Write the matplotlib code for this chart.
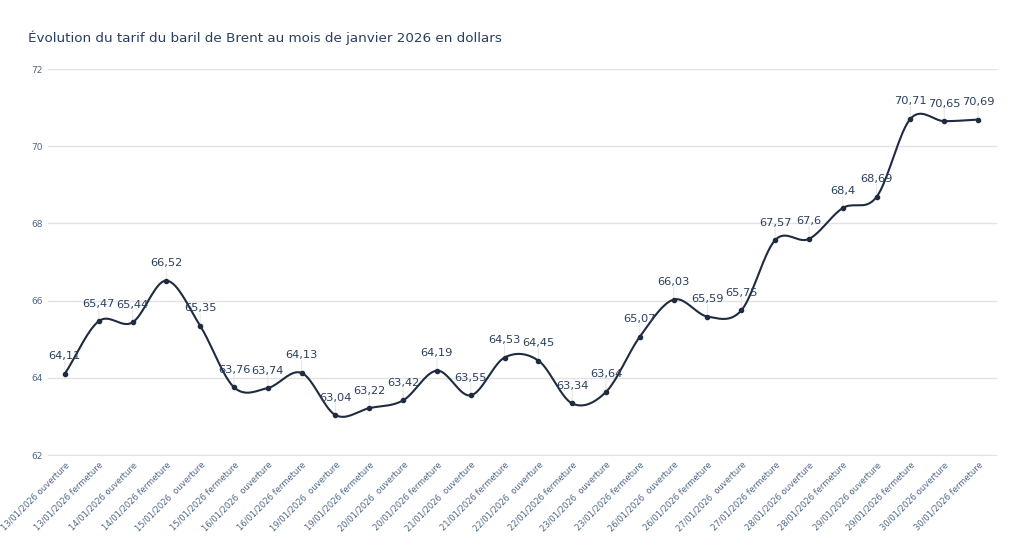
import numpy as np
import matplotlib.pyplot as plt
from matplotlib.transforms import ScaledTranslation

title = "Évolution du tarif du baril de Brent au mois de janvier 2026 en dollars"

labels = [
    "13/01/2026 ouverture", "13/01/2026 fermeture",
    "14/01/2026 ouverture", "14/01/2026 fermeture",
    "15/01/2026  ouverture", "15/01/2026 fermeture",
    "16/01/2026  ouverture", "16/01/2026 fermeture",
    "19/01/2026  ouverture", "19/01/2026 fermeture",
    "20/01/2026  ouverture", "20/01/2026 fermeture",
    "21/01/2026  ouverture", "21/01/2026 fermeture",
    "22/01/2026  ouverture", "22/01/2026 fermeture",
    "23/01/2026  ouverture", "23/01/2026 fermeture",
    "26/01/2026  ouverture", "26/01/2026 fermeture",
    "27/01/2026  ouverture", "27/01/2026 fermeture",
    "28/01/2026 ouverture", "28/01/2026 fermeture",
    "29/01/2026 ouverture", "29/01/2026 fermeture",
    "30/01/2026 ouverture", "30/01/2026 fermeture",
]

prices = [
    64.11, 65.47, 65.44, 66.52, 65.35, 63.76, 63.74, 64.13,
    63.04, 63.22, 63.42, 64.19, 63.55, 64.53, 64.45, 63.34,
    63.64, 65.07, 66.03, 65.59, 65.75, 67.57, 67.6, 68.4,
    68.69, 70.71, 70.65, 70.69,
]

y_ticks = [62, 64, 66, 68, 70, 72]

LINE = "#1f2b3e"
TEXT = "#2a3f5f"
TICK = "#506784"
GRID = "#e3e3e3"


def smooth(xs, ys, steps = 20):
    # catmull-rom through the points, only for the drawn line
    xs = np.asarray(xs, float)
    ys = np.asarray(ys, float)
    px = np.concatenate([[2 * xs[0] - xs[1]], xs, [2 * xs[-1] - xs[-2]]])
    py = np.concatenate([[2 * ys[0] - ys[1]], ys, [2 * ys[-1] - ys[-2]]])
    out_x, out_y = [], []
    t = np.linspace(0, 1, steps, endpoint = False)
    for i in range(1, len(px) - 2):
        for p, out in ((px, out_x), (py, out_y)):
            p0, p1, p2, p3 = p[i - 1], p[i], p[i + 1], p[i + 2]
            out.extend(0.5 * ((2 * p1) + (-p0 + p2) * t +
                              (2 * p0 - 5 * p1 + 4 * p2 - p3) * t ** 2 +
                              (-p0 + 3 * p1 - 3 * p2 + p3) * t ** 3))
    out_x.append(xs[-1])
    out_y.append(ys[-1])
    return np.array(out_x), np.array(out_y)


fig = plt.figure(figsize = (10.24, 5.59), dpi = 100)
ax = fig.add_axes([48 / 1024, 103 / 559, 949 / 1024, 387 / 559])

xs = np.arange(len(prices))
sx, sy = smooth(xs, prices)
ax.plot(sx, sy, color = LINE, linewidth = 1.5, zorder = 3)
ax.plot(xs, prices, "o", color = LINE, markersize = 3, zorder = 4)

for x, v in zip(xs, prices):
    ax.annotate(
        f"{v:g}".replace(".", ","),
        xy = (x, v), xytext = (0, 9), textcoords = "offset points",
        ha = "center", va = "bottom", fontsize = 8.2, color = TEXT, zorder = 5,
    )
    ax.annotate(
        "", xy = (x, v), xytext = (0, 9), textcoords = "offset points",
        arrowprops = dict(arrowstyle = "-", color = "#e8e8e8", lw = 0.8,
                          shrinkA = 0, shrinkB = 2),
        zorder = 2,
    )

ax.set_xlim(-0.5, 27.56)
ax.set_ylim(61.98, 72)
ax.set_yticks(y_ticks)
ax.set_xticks(xs)
ax.set_xticklabels(labels, rotation = 45, ha = "right", rotation_mode = "anchor",
                   fontsize = 6, color = TICK)
shift = ScaledTranslation(5 / 100, 0, fig.dpi_scale_trans)
for lab in ax.get_xticklabels():
    lab.set_transform(lab.get_transform() + shift)
ax.tick_params(axis = "y", labelsize = 6.5, labelcolor = TICK, length = 0, pad = 4)
ax.tick_params(axis = "x", length = 0, pad = 3)
ax.grid(axis = "y", color = GRID, linewidth = 1)
ax.set_axisbelow(True)
for s in ax.spines.values():
    s.set_visible(False)

fig.text(28 / 1024, 1 - 38 / 559, title, fontsize = 9.7, color = TEXT,
         ha = "left", va = "center")

fig.savefig("out.png", dpi = 100)
